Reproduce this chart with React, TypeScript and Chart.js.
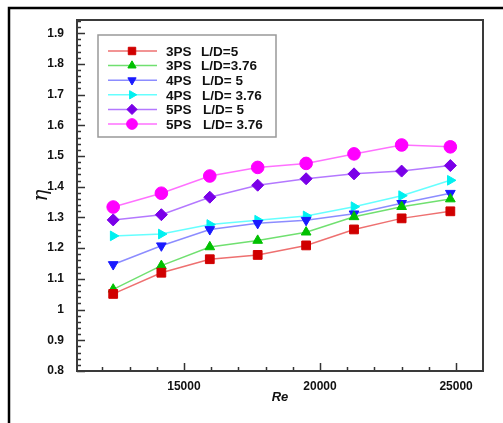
import React, { useEffect, useRef } from "react";
import { Chart, registerables } from "chart.js";
import { drawPoint } from "chart.js/helpers";

Chart.register(...registerables);

const reValues = [12400, 14170, 15950, 17710, 19490, 21250, 23000, 24790];
const ps3LD5 = [1.051, 1.12, 1.164, 1.178, 1.209, 1.261, 1.297, 1.32];
const ps3LD376 = [1.066, 1.143, 1.204, 1.225, 1.252, 1.302, 1.335, 1.36];
const ps4LD5 = [1.147, 1.208, 1.261, 1.281, 1.291, 1.312, 1.346, 1.379];
const ps4LD376 = [1.24, 1.246, 1.277, 1.291, 1.305, 1.335, 1.371, 1.421];
const ps5LD5 = [1.292, 1.309, 1.366, 1.405, 1.426, 1.442, 1.451, 1.469];
const ps5LD376 = [1.334, 1.379, 1.435, 1.463, 1.476, 1.507, 1.536, 1.53];

const seriesLabels = [
  "3PS  L/D=5",
  "3PS  L/D=3.76",
  "4PS  L/D= 5",
  "4PS  L/D= 3.76",
  "5PS  L/D= 5",
  "5PS  L/D= 3.76",
];
const xTickValues = [15000, 20000, 25000];
const yTickValues = [0.8, 0.9, 1, 1.1, 1.2, 1.3, 1.4, 1.5, 1.6, 1.7, 1.8, 1.9];

const FONT = "'Liberation Sans', Arial, sans-serif";

const styles = [
  { line: "#ee7070", mark: "#d00000", pointStyle: "rect", radius: 6.2, rotation: 0 },
  { line: "#70e070", mark: "#00c000", pointStyle: "triangle", radius: 5.6, rotation: 0 },
  { line: "#8c8cff", mark: "#1a1aff", pointStyle: "triangle", radius: 5.6, rotation: 180 },
  { line: "#66ffff", mark: "#00f0f0", pointStyle: "triangle", radius: 5.6, rotation: 90 },
  { line: "#b478ff", mark: "#7a00e8", pointStyle: "rectRot", radius: 6, rotation: 0 },
  { line: "#ff70ff", mark: "#ff00ff", pointStyle: "circle", radius: 6.3, rotation: 0 },
];

const seriesData = [ps3LD5, ps3LD376, ps4LD5, ps4LD376, ps5LD5, ps5LD376];

const framePlugin = {
  id: "framePlugin",
  beforeDraw(chart: any) {
    const ctx = chart.ctx;
    ctx.save();
    ctx.fillStyle = "#ffffff";
    ctx.fillRect(0, 0, chart.width, chart.height);
    ctx.strokeStyle = "#000";
    ctx.lineWidth = 2.5;
    ctx.strokeRect(9, 8, chart.width + 20, chart.height + 20);
    ctx.restore();
  },
  afterDatasetsDraw(chart: any) {
    const ctx = chart.ctx;
    const { left, right, top, bottom } = chart.chartArea;
    const xs = chart.scales.x;
    const ys = chart.scales.y;
    ctx.save();
    ctx.strokeStyle = "#333";
    ctx.lineWidth = 1.5;
    for (let i = 40; i <= 97; i++) {
      const v = i * 0.02;
      if (v > ys.max) break;
      const py = Math.round(ys.getPixelForValue(v)) + 0.5;
      const len = i % 5 === 0 ? 8 : 4;
      ctx.beginPath();
      ctx.moveTo(left, py);
      ctx.lineTo(left + len, py);
      ctx.stroke();
    }
    for (let v = 12000; v <= 25000; v += 1000) {
      const px = Math.round(xs.getPixelForValue(v)) + 0.5;
      const len = v % 5000 === 0 ? 8 : 4;
      ctx.beginPath();
      ctx.moveTo(px, bottom);
      ctx.lineTo(px, bottom - len);
      ctx.stroke();
    }
    ctx.lineWidth = 2;
    ctx.strokeStyle = "#3a3a3a";
    ctx.strokeRect(left, top, right - left, bottom - top);

    // legend
    const bx = left + 21;
    const by = top + 15;
    const bw = 178;
    const bh = 102;
    ctx.fillStyle = "#fff";
    ctx.fillRect(bx, by, bw, bh);
    ctx.strokeStyle = "#999";
    ctx.lineWidth = 1.5;
    ctx.strokeRect(bx, by, bw, bh);
    chart.data.datasets.forEach((ds: any, i: number) => {
      const y = by + 16 + i * 14.6;
      ctx.strokeStyle = ds.borderColor;
      ctx.lineWidth = 1.5;
      ctx.beginPath();
      ctx.moveTo(bx + 10, y);
      ctx.lineTo(bx + 59, y);
      ctx.stroke();
      ctx.fillStyle = ds.pointBackgroundColor;
      ctx.strokeStyle = ds.pointBorderColor;
      ctx.lineWidth = 1;
      drawPoint(
        ctx,
        { pointStyle: ds.pointStyle, radius: ds.pointRadius * 0.85, rotation: ds.pointRotation, borderWidth: 1 },
        bx + 34,
        y
      );
      const parts = ds.label.split("  ");
      ctx.fillStyle = "#111";
      ctx.font = `bold 13.5px ${FONT}`;
      ctx.textBaseline = "middle";
      ctx.textAlign = "left";
      ctx.fillText(parts[0], bx + 68, y + 1);
      ctx.fillText(parts[1], bx + 103 + (i >= 2 ? 1 : 0) + (i >= 4 ? 1 : 0), y + 1);
    });
    ctx.restore();
  },
};

export default function App() {
  const ref = useRef<HTMLCanvasElement>(null);
  useEffect(() => {
    if (!ref.current) return;
    const chart = new Chart(ref.current, {
      type: "line",
      data: {
        datasets: seriesData.map((vals, i) => ({
          label: seriesLabels[i],
          data: vals.map((v, j) => ({ x: reValues[j], y: v })),
          borderColor: styles[i].line,
          borderWidth: 1.5,
          pointBackgroundColor: styles[i].mark,
          pointBorderColor: styles[i].mark,
          pointBorderWidth: 1,
          pointStyle: styles[i].pointStyle as any,
          pointRadius: styles[i].radius,
          pointRotation: styles[i].rotation,
          tension: 0,
          fill: false,
        })),
      },
      options: {
        animation: false,
        responsive: true,
        maintainAspectRatio: false,
        layout: { padding: { top: 20, right: 20, left: 0, bottom: 0 } },
        plugins: { legend: { display: false }, tooltip: { enabled: false } },
        scales: {
          x: {
            type: "linear",
            min: 11070,
            max: 25990,
            grid: { display: false },
            border: { display: false },
            afterBuildTicks: (s: any) => {
              s.ticks = xTickValues.map((v) => ({ value: v }));
            },
            afterFit: (s: any) => {
              s.height = 52;
            },
            ticks: {
              color: "#111",
              font: { family: FONT, size: 12, weight: "bold" },
              padding: 0,
              maxRotation: 0,
              callback: (v: any) => String(v),
            },
            title: {
              display: true,
              text: "Re",
              color: "#111",
              font: { family: FONT, size: 13, weight: "bold", style: "italic" },
              padding: { top: 0, bottom: 18 },
            },
          },
          y: {
            type: "linear",
            min: 0.8,
            max: 1.943,
            grid: { display: false },
            border: { display: false },
            afterBuildTicks: (s: any) => {
              s.ticks = yTickValues.map((v) => ({ value: v }));
            },
            afterFit: (s: any) => {
              s.width = 77;
            },
            ticks: {
              color: "#111",
              font: { family: FONT, size: 12, weight: "bold" },
              padding: 5,
              callback: (v: any) => String(Math.round(v * 10) / 10),
            },
            title: {
              display: true,
              text: "η",
              color: "#111",
              font: { family: "'DejaVu Serif', serif", size: 20, style: "italic" },
              padding: { top: 30, bottom: 0 },
            },
          },
        },
      },
      plugins: [framePlugin],
    });
    return () => chart.destroy();
  }, []);
  return (
    <div style={{ position: "fixed", left: 0, top: 0, width: 503, height: 423 }}>
      <canvas ref={ref} />
    </div>
  );
}
